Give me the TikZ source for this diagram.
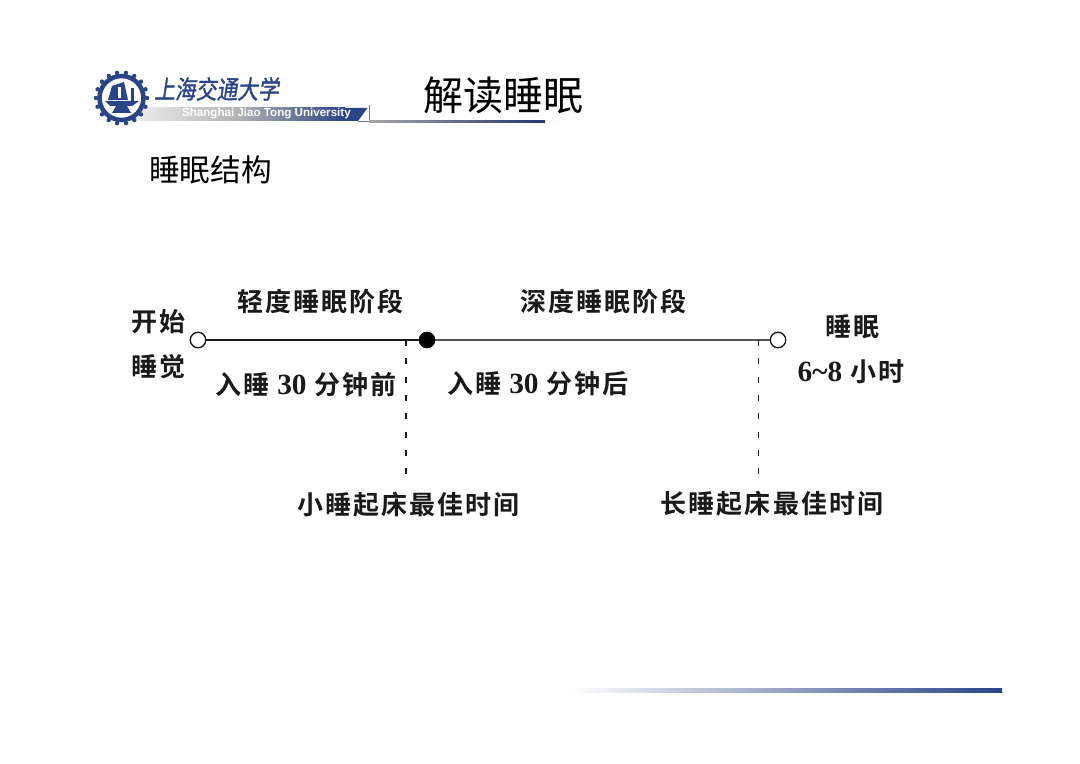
\documentclass[tikz,border=0pt]{standalone}
\usepackage{fontspec}
\setmainfont{Liberation Sans}
\newfontfamily\cjk{Noto Sans CJK SC}
\newfontfamily\cjkb[LetterSpace=8]{Noto Sans CJK SC Bold}
\newfontfamily\logof[FakeBold=1.2,FakeSlant=0.15,FakeStretch=0.82]{Noto Sans CJK SC}
\newfontfamily\dig{Liberation Serif}
\usetikzlibrary{shadings}
\definecolor{sjtu}{HTML}{2A4488}
\definecolor{ink}{HTML}{1A1A1A}
\newcommand{\dg}[1]{{\dig\bfseries\fontsize{22pt}{22pt}\selectfont #1}}
\tikzset{
  x=0.75pt,y=-0.75pt,
  lbl/.style={font=\cjkb\fontsize{19.5pt}{22pt}\selectfont,text=ink,inner sep=0pt,anchor=center},
  hollow/.style={circle,draw=ink,fill=white,line width=1pt,minimum size=11.6pt,inner sep=0pt},
  solid dot/.style={circle,fill=black,draw=black,minimum size=12pt,inner sep=0pt},
  timeline/.style={draw=ink,line width=1.1pt},
  guide/.style={draw=ink,line width=1.4pt,dash pattern=on 4.4pt off 9.35pt},
}
\begin{document}
\begin{tikzpicture}
\useasboundingbox (0,0) rectangle (1080,763);
\fill[white] (0,0) rectangle (1080,763);
% header band
\shade[left color=gray!12,right color=sjtu,middle color=gray!60] (130,108) rectangle (345,121);
\fill[sjtu] (344.5,108) -- (367.5,108) -- (358,121) -- (344.5,121) -- cycle;
\draw[gray!80!sjtu,line width=0.7pt] (369,105) -- (369,121) -- (358,121);
\shade[left color=gray!70,right color=sjtu!80!black] (369,120.5) rectangle (545,123);
\node[font=\bfseries\fontsize{8.7pt}{9pt}\selectfont,text=white,anchor=east,inner sep=0pt] (uni) at (351,114) {Shanghai Jiao Tong University};
% logo
\foreach \a in {0,20,...,340}{
  \fill[sjtu] (121.5,98) ++(\a:25.5) circle[radius=2.2];
}
\draw[sjtu,line width=3.4pt,fill=white] (121.5,98) circle[radius=22];
\fill[sjtu] (105,101) -- (139,101) -- (132,106) -- (127,106) -- (131,113) -- (112,113) -- (116,106) -- (110,106) -- cycle;
\fill[sjtu] (112,86) -- (124,82) -- (128,100) -- (108,100) -- cycle;
\fill[white] (118,87) rectangle (121,98);
\fill[sjtu] (131,88) rectangle (134,104);
\node[font=\logof\fontsize{19pt}{21pt}\selectfont,text=sjtu,inner sep=0pt,anchor=west] (school) at (154,89) {上海交通大学};
% titles
\node[font=\cjk\fontsize{30pt}{34pt}\selectfont,text=black,inner sep=0pt] (title) at (503.5,95) {解读睡眠};
\node[font=\cjk\fontsize{23pt}{26pt}\selectfont,text=black,inner sep=0pt] (sub) at (210.5,170) {睡眠结构};
% timeline
\node[hollow] (start) at (198,340) {};
\node[solid dot] (mid) at (427,340) {};
\node[hollow] (end) at (778,340) {};
\coordinate (g1) at (406,340);
\coordinate (g2) at (758.5,340);
\coordinate (g1e) at (406,476);
\coordinate (g2e) at (758.5,476);
\draw[timeline] (start) -- (mid);
\draw[timeline,line width=0.9pt,draw=ink!75] (mid) -- (end);
\draw[guide] (g1) -- (g1e);
\draw[guide] (g2) -- (g2e);
% labels
\node[lbl] (a) at (158.5,322) {开始};
\node[lbl] (b) at (158.5,367) {睡觉};
\node[lbl] (c) at (320.5,302) {轻度睡眠阶段};
\node[lbl] (d) at (603.5,302) {深度睡眠阶段};
\node[lbl] (e) at (852.5,327) {睡眠};
\node[lbl] (f) at (851,372) {\dg{6\textasciitilde 8} 小时};
\node[lbl] (g) at (306,385) {入睡 \dg{30} 分钟前};
\node[lbl] (h) at (538,384) {入睡 \dg{30} 分钟后};
\node[lbl] (i) at (408.5,505) {小睡起床最佳时间};
\node[lbl] (j) at (772,504) {长睡起床最佳时间};
% footer bar
\shade[left color=white,right color=sjtu] (570,688) rectangle (1002,692);
\end{tikzpicture}
\end{document}
